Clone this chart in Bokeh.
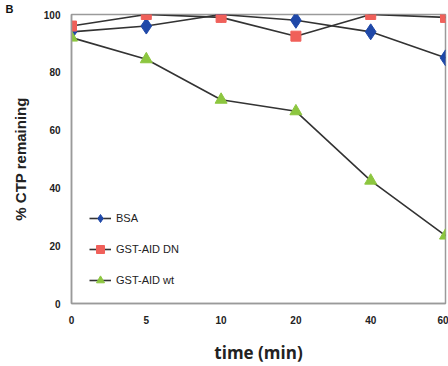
from bokeh.plotting import figure
from bokeh.models import Range1d, Legend, LegendItem, FixedTicker
from bokeh.embed import file_html
from bokeh.resources import INLINE

times = ["0", "5", "10", "20", "40", "60"]
bsa = [94, 96, 100, 98, 94, 85]
gst_dn = [96, 100, 99, 92.5, 100, 99]
gst_wt = [92, 84.5, 70.5, 66.5, 42.5, 23.5]
y_ticks = [0, 20, 40, 60, 80, 100]
panel_label = "B"

xs = list(range(len(times)))

p = figure(width=448, height=366, output_backend="svg", toolbar_location=None,
           x_range=Range1d(0, len(times) - 1), y_range=Range1d(0, 100),
           min_border_left=71, min_border_right=3, min_border_top=13, min_border_bottom=62)
p.grid.visible = False
p.outline_line_color = "#9a9a9a"
p.outline_line_width = 1.5
p.background_fill_color = "white"
p.border_fill_color = "white"

p.title.text = panel_label
p.title.align = "left"
p.title.offset = -66
p.title.standoff = 0
p.title.text_font = "Liberation Sans"
p.title.text_font_style = "bold"
p.title.text_font_size = "11px"
p.title.text_color = "#111111"

p.xaxis.ticker = FixedTicker(ticks=xs)
p.xaxis.major_label_overrides = {i: t for i, t in enumerate(times)}
p.yaxis.ticker = FixedTicker(ticks=y_ticks)
for ax in (p.xaxis[0], p.yaxis[0]):
    ax.axis_line_color = "#9a9a9a"
    ax.axis_line_width = 1.5
    ax.major_tick_line_color = None
    ax.minor_tick_line_color = None
    ax.major_label_text_font = "Liberation Sans"
    ax.major_label_text_font_style = "bold"
    ax.major_label_text_font_size = "10px"
    ax.major_label_text_color = "#222222"
p.xaxis.major_label_standoff = 6
p.yaxis.major_label_standoff = 5

p.xaxis.axis_label = "time (min)"
p.xaxis.axis_label_text_font = "Open Sans"
p.xaxis.axis_label_text_font_style = "bold"
p.xaxis.axis_label_text_font_size = "17px"
p.xaxis.axis_label_text_color = "#222222"
p.xaxis.axis_label_standoff = 14

p.yaxis.axis_label = "% CTP remaining"
p.yaxis.axis_label_text_font = "Liberation Sans"
p.yaxis.axis_label_text_font_style = "bold"
p.yaxis.axis_label_text_font_size = "15px"
p.yaxis.axis_label_text_color = "#222222"
p.yaxis.axis_label_standoff = 12

line_color = "#333333"
series = [
    ("BSA", bsa, "diamond", "#1f48a8", 16),
    ("GST-AID DN", gst_dn, "square", "#f0605a", 10),
    ("GST-AID wt", gst_wt, "triangle", "#8cc63f", 12),
]
items = []
for name, vals, marker, color, size in series:
    ln = p.line(xs, vals, line_color=line_color, line_width=1.6)
    sc = p.scatter(xs, vals, marker=marker, size=size, fill_color=color, line_color=color)
    items.append(LegendItem(label=name, renderers=[ln, sc]))

legend = Legend(items=items, location=(18, 13), glyph_width=22, glyph_height=20,
                spacing=11, padding=0, margin=0, border_line_color=None,
                background_fill_alpha=0, label_text_font="Liberation Sans",
                label_text_font_size="11px", label_text_color="#222222", label_standoff=5)
p.add_layout(legend, "center")

open("out.html", "w").write(file_html(p, INLINE))
